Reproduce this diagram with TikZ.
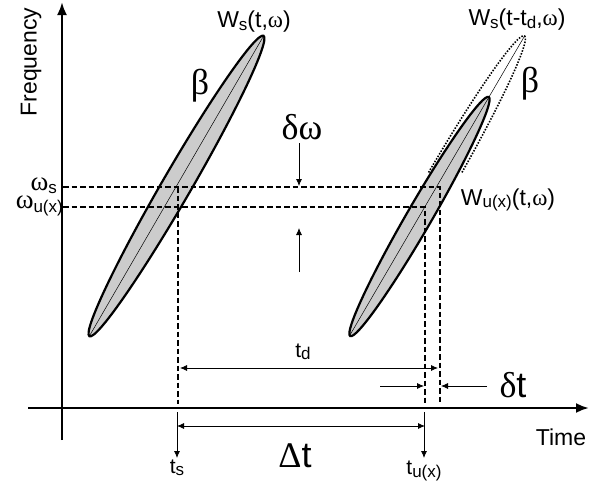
\documentclass[tikz,border=0pt]{standalone}
\usepackage{fontspec}
\setmainfont{Liberation Sans}
\newfontfamily\greekfont{Liberation Serif}
\usetikzlibrary{arrows.meta, positioning, calc}

% lowered small index, and serif greek letters
\newcommand{\lo}[1]{\raisebox{-0.12em}{\fontsize{17}{17}\selectfont #1}}
\newcommand{\gk}[1]{{\greekfont #1}}

\tikzset{
  axis/.style={line width=2.5pt, -{Latex[length=13pt, width=10pt]}},
  guide/.style={line width=2pt, dash pattern=on 5.5pt off 3pt},
  dim/.style={line width=0.8pt, -{Latex[length=7pt, width=6pt]}},
  dimboth/.style={line width=0.8pt, {Latex[length=7pt, width=6pt]}-{Latex[length=7pt, width=6pt]}},
  lobe/.style={line width=2.2pt, fill=black!20},
  ghost/.style={line width=1.6pt, dash pattern=on 1.5pt off 1.5pt},
  ridge/.style={line width=0.5pt},
  lbl/.style={font=\fontsize{23}{25}\selectfont, inner sep=0pt},
  wlbl/.style={font=\fontsize{27}{29}\selectfont, inner sep=0pt},
  tlbl/.style={font=\fontsize{21}{23}\selectfont, inner sep=0pt},
  biglbl/.style={font=\fontsize{36}{38}\selectfont, inner sep=0pt}
}

\begin{document}
\begin{tikzpicture}[x=1pt, y=-1pt]
    \useasboundingbox (0,0) rectangle (589,485);

    % Size of one lobe and its tilt
    \def\major{173.6}
    \def\minor{14.5}
    \def\tilt{59.9}

    % Axes
    \coordinate (ybot) at (62,440);
    \coordinate (ytop) at (62,2);
    \coordinate (xleft) at (28,408);
    \coordinate (xright) at (589,408);
    \draw[axis] (ybot) -- (ytop);
    \draw[axis] (xleft) -- (xright);
    \node[lbl, rotate=90] (freq) at (31,62) {Frequency};
    \node[lbl] (time) at (561,437) {Time};

    % Left lobe W_s(t,w)
    \coordinate (lc) at (176.5,186);
    \draw[lobe, rotate around={\tilt:(lc)}] (lc) ellipse[x radius=\major, y radius=\minor];
    \coordinate (lbot) at (90,335);
    \coordinate (ltop) at (263,37);
    \draw[ridge] (lbot) -- (ltop);

    % Right lobe: dotted shifted copy, then the shorter grey one
    \coordinate (rc) at (437.5,186);
    \begin{scope}
      \clip (300,0) rectangle (589,172);
      \draw[ghost, rotate around={\tilt:(rc)}] (rc) ellipse[x radius=\major, y radius=\minor];
    \end{scope}
    \coordinate (gc) at (419.5,216.5);
    \draw[lobe, rotate around={\tilt:(gc)}] (gc) ellipse[x radius=138.2, y radius=12.5];
    \coordinate (rbot) at (350,335);
    \coordinate (rtop) at (524,37);
    \draw[ridge] (rbot) -- (rtop);

    % Dashed guide lines
    \coordinate (ws0) at (63,187);
    \coordinate (ws1) at (440,187);
    \coordinate (ws2) at (440,404);
    \coordinate (wu0) at (63,207);
    \coordinate (wu1) at (425,207);
    \coordinate (wu2) at (425,404);
    \coordinate (ts0) at (178,187);
    \coordinate (ts1) at (178,404);
    \draw[guide] (ws0) -- (ws1) -- (ws2);
    \draw[guide] (wu0) -- (wu1) -- (wu2);
    \draw[guide] (ts0) -- (ts1);

    % delta omega
    \coordinate (dwa) at (299,143);
    \coordinate (dwb) at (299,186);
    \coordinate (dwc) at (299,272);
    \coordinate (dwd) at (299,228);
    \draw[dim] (dwa) -- (dwb);
    \draw[dim] (dwc) -- (dwd);

    % t_d
    \coordinate (tda) at (180,368);
    \coordinate (tdb) at (438,368);
    \draw[dimboth] (tda) -- (tdb);

    % delta t
    \coordinate (dta) at (380,386);
    \coordinate (dtb) at (424,386);
    \coordinate (dtc) at (487,386);
    \coordinate (dtd) at (441,386);
    \draw[dim] (dta) -- (dtb);
    \draw[dim] (dtc) -- (dtd);

    % Delta t and the two time marks
    \coordinate (Dta) at (177,426);
    \coordinate (Dtb) at (425,426);
    \draw[dimboth] (Dta) -- (Dtb);
    \coordinate (tsa) at (177,412);
    \coordinate (tsb) at (177,458);
    \coordinate (tua) at (424,412);
    \coordinate (tub) at (424,458);
    \draw[dim] (tsa) -- (tsb);
    \draw[dim] (tua) -- (tub);

    % Labels
    \node[lbl] (wsl) at (254,22) {W\lo{s}(t,\gk{ω})};
    \node[lbl] (wstd) at (517,20) {W\lo{s}(t-t\lo{d},\gk{ω})};
    \node[lbl] (wul) at (508,200) {W\lo{u(x)}(t,\gk{ω})};
    \node[biglbl] (betal) at (200,86) {\gk{β}};
    \node[biglbl] (betar) at (530,84) {\gk{β}};
    \node[biglbl] (dwl) at (302,127) {\gk{δω}};
    \node[biglbl] (dtl) at (513,385) {\gk{δ}t};
    \node[biglbl] (Dtl) at (295,456) {\gk{Δ}t};
    \node[tlbl] (tdl) at (303,352) {t\lo{d}};
    \node[tlbl] (tsl) at (177,468) {t\lo{s}};
    \node[tlbl] (tul) at (424,471) {t\lo{u(x)}};
    \node[wlbl, anchor=east] (wsy) at (57,186) {\gk{ω}\lo{s}};
    \node[wlbl, anchor=east] (wuy) at (63,206) {\gk{ω}\lo{u(x)}};

\end{tikzpicture}
\end{document}
